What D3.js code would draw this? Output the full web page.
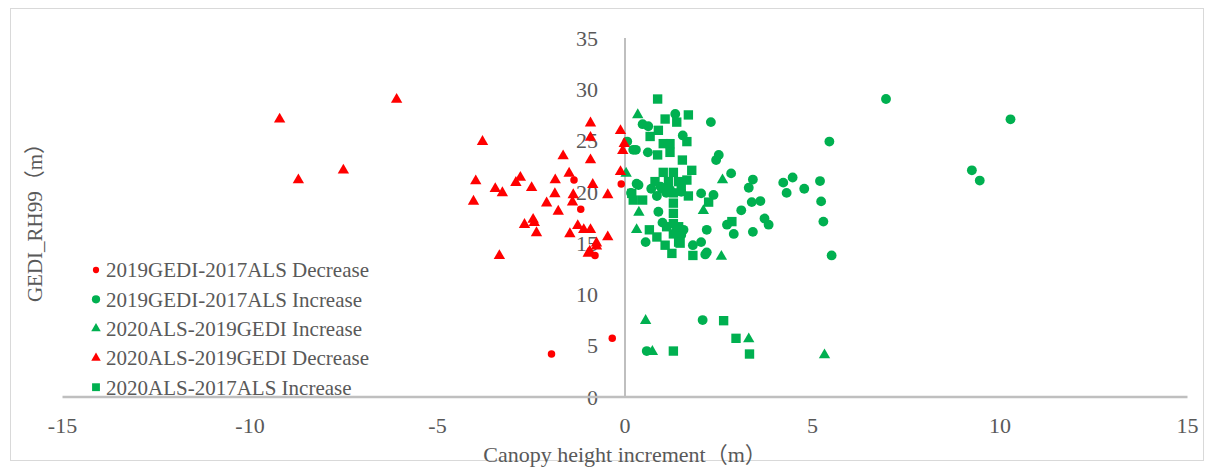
<!DOCTYPE html>
<html>
<head>
<meta charset="utf-8">
<script src="https://cdn.jsdelivr.net/npm/d3@7"></script>
<style>
	body { margin: 0; background: #fff; }
	text { font-family: "Liberation Serif", "Times New Roman", "Noto Sans CJK SC", serif; fill: #595959; }
</style>
</head>
<body>
<div id="chart"></div>
<script>
// series names, in legend order
var seriesNames = [
	"2019GEDI-2017ALS Decrease",
	"2019GEDI-2017ALS Increase",
	"2020ALS-2019GEDI Increase",
	"2020ALS-2019GEDI Decrease",
	"2020ALS-2017ALS Increase"
];

var xTicks = [-15, -10, -5, 0, 5, 10, 15];
var yTicks = [0, 5, 10, 15, 20, 25, 30, 35];

// [increment, RH99]
var gediAlsDecrease = [
	[-1.36, 21.15], [-1.18, 18.3], [-0.80, 13.8], [-0.10, 20.76], [-0.34, 5.72], [-1.96, 4.19]
];

var gediAlsIncrease = [
	[6.96, 29.05], [10.28, 27.07], [5.45, 24.9], [9.25, 22.1], [9.46, 21.1], [4.47, 21.4],
	[4.22, 20.9], [4.31, 19.9], [4.78, 20.3], [5.20, 21.05], [5.23, 19.07], [5.29, 17.1],
	[5.51, 13.8], [2.29, 26.8], [1.34, 27.6], [0.47, 26.6], [0.62, 26.4], [1.54, 25.5],
	[0.06, 24.9], [0.22, 24.1], [0.29, 24.1], [0.61, 23.85], [2.50, 23.6], [2.43, 23.1],
	[2.83, 21.8], [3.41, 21.2], [3.30, 20.4], [3.38, 19.0], [3.61, 19.1], [3.10, 18.2],
	[3.72, 17.4], [3.83, 16.8], [2.72, 16.8], [2.90, 15.9], [3.41, 16.1], [2.18, 16.3],
	[2.03, 19.85], [2.36, 19.7], [1.81, 14.8], [2.03, 15.1], [2.18, 14.1], [2.14, 13.9],
	[0.55, 15.1], [0.89, 18.06], [0.36, 20.66], [0.31, 20.8], [0.16, 19.9], [1.38, 16.3],
	[1.56, 16.3], [1.10, 19.9], [0.95, 20.5], [1.20, 20.2], [1.50, 20.0], [0.70, 20.3],
	[0.85, 19.6], [1.00, 17.0], [1.50, 15.8], [2.07, 7.5], [0.58, 4.48]
];

var alsGediIncrease = [
	[0.34, 27.5], [0.03, 21.8], [2.60, 21.15], [0.37, 18.0], [0.31, 16.3], [2.09, 18.15],
	[2.57, 13.7], [0.55, 7.44], [0.73, 4.42], [3.30, 5.65], [5.32, 4.09]
];

var alsGediDecrease = [
	[-9.21, 27.07], [-6.09, 29.0], [-8.71, 21.15], [-7.51, 22.1], [-3.80, 24.9], [-3.98, 21.05],
	[-4.04, 19.07], [-3.46, 20.3], [-3.27, 19.9], [-3.35, 13.77], [-2.91, 20.9], [-2.79, 21.4],
	[-2.49, 20.4], [-2.68, 16.8], [-2.45, 17.3], [-2.42, 17.0], [-2.36, 16.0], [-1.65, 23.5],
	[-1.86, 21.15], [-1.87, 19.8], [-2.09, 18.9], [-1.78, 18.1], [-1.49, 21.8], [-1.38, 19.7],
	[-1.40, 19.0], [-1.47, 15.9], [-1.26, 16.7], [-1.10, 16.3], [-0.92, 16.3], [-0.92, 26.7],
	[-0.92, 25.3], [-0.92, 23.1], [-0.86, 20.7], [-0.46, 19.7], [-0.46, 15.6], [-0.12, 25.96],
	[-0.02, 24.7], [-0.06, 24.0], [-0.12, 21.96], [-0.76, 15.0], [-0.98, 14.0], [-0.94, 14.2],
	[-0.76, 14.7]
];

var alsAlsIncrease = [
	[0.87, 29.05], [1.69, 27.5], [1.07, 27.1], [1.38, 26.8], [0.89, 26.0], [0.67, 25.4],
	[1.02, 24.7], [1.20, 24.7], [1.65, 24.9], [0.87, 23.6], [1.20, 23.85], [1.53, 23.1],
	[1.78, 22.1], [1.02, 21.9], [1.29, 21.9], [0.80, 21.0], [1.16, 21.0], [1.43, 21.0],
	[1.65, 21.15], [0.18, 19.85], [0.22, 19.2], [0.47, 19.2], [1.69, 19.6], [2.23, 19.0],
	[1.29, 19.9], [1.29, 18.9], [1.29, 17.9], [1.29, 16.9], [1.29, 15.9], [0.65, 16.3],
	[0.85, 15.6], [1.11, 16.6], [1.43, 16.6], [1.47, 15.0], [1.25, 14.0], [1.07, 14.8],
	[1.43, 15.1], [1.81, 13.8], [2.85, 17.1], [1.00, 20.3], [1.50, 20.4],
	[2.63, 7.44], [2.96, 5.72], [3.32, 4.19], [1.29, 4.48]
];

var RED = "#ff0000",
	GREEN = "#00b050";

var series = [
	{ name: seriesNames[0], data: gediAlsDecrease, color: RED, type: d3.symbolCircle, size: 44 },
	{ name: seriesNames[1], data: gediAlsIncrease, color: GREEN, type: d3.symbolCircle, size: 76 },
	{ name: seriesNames[2], data: alsGediIncrease, color: GREEN, type: d3.symbolTriangle, size: 56 },
	{ name: seriesNames[3], data: alsGediDecrease, color: RED, type: d3.symbolTriangle, size: 56 },
	{ name: seriesNames[4], data: alsAlsIncrease, color: GREEN, type: d3.symbolSquare, size: 88 }
];

var W = 1214, H = 468;

var svg = d3.select("#chart").append("svg")
	.attr("width", W)
	.attr("height", H);

// chart frame
svg.append("rect")
	.attr("x", 10.5).attr("y", 8.5)
	.attr("width", 1193).attr("height", 452)
	.attr("fill", "#fff")
	.attr("stroke", "#d9d9d9");

var x = d3.scaleLinear().domain([-15, 15]).range([62.5, 1187.5]);
var y = d3.scaleLinear().domain([0, 35]).range([397, 38]);

// x tick labels along the bottom
svg.append("g").selectAll("text")
	.data(xTicks)
	.enter().append("text")
	.attr("x", function(d) { return x(d); })
	.attr("y", 433)
	.attr("text-anchor", "middle")
	.style("font-size", "22px")
	.text(function(d) { return d; });

// y tick labels next to the zero line
svg.append("g").selectAll("text")
	.data(yTicks)
	.enter().append("text")
	.attr("x", x(0) - 27)
	.attr("y", function(d) { return y(d); })
	.attr("dy", "0.35em")
	.attr("text-anchor", "end")
	.style("font-size", "22px")
	.text(function(d) { return d; });

// axis lines through zero
svg.append("line")
	.attr("x1", x(-15)).attr("x2", x(15))
	.attr("y1", y(0)).attr("y2", y(0))
	.attr("stroke", "#bfbfbf").attr("stroke-width", 2.5);
svg.append("line")
	.attr("x1", x(0)).attr("x2", x(0))
	.attr("y1", y(0)).attr("y2", y(35))
	.attr("stroke", "#bfbfbf").attr("stroke-width", 2);

// axis titles
svg.append("text")
	.attr("x", x(0))
	.attr("y", 462)
	.attr("text-anchor", "middle")
	.style("font-size", "22px")
	.text("Canopy height increment\uff08m\uff09");

svg.append("text")
	.attr("transform", "translate(42," + ((y(0) + y(35)) / 2) + ")rotate(-90)")
	.attr("text-anchor", "middle")
	.style("font-size", "21px")
	.text("GEDI_RH99\uff08m\uff09");

// points
series.forEach(function(s) {
	var sym = d3.symbol().type(s.type).size(s.size);
	svg.append("g").selectAll("path")
		.data(s.data)
		.enter().append("path")
		.attr("transform", function(d) { return "translate(" + x(d[0]) + "," + y(d[1]) + ")"; })
		.attr("d", sym)
		.attr("fill", s.color);
});

// legend
var legend = svg.append("g").selectAll("g")
	.data(series)
	.enter().append("g")
	.attr("transform", function(d, i) { return "translate(96," + (270 + i * 29.3) + ")"; });

legend.append("path")
	.attr("d", function(d) { return d3.symbol().type(d.type).size(d.size * 0.7)(); })
	.attr("fill", function(d) { return d.color; });

legend.append("text")
	.attr("x", 10)
	.attr("dy", "0.35em")
	.style("font-size", "21px")
	.text(function(d) { return d.name; });
</script>
</body>
</html>
